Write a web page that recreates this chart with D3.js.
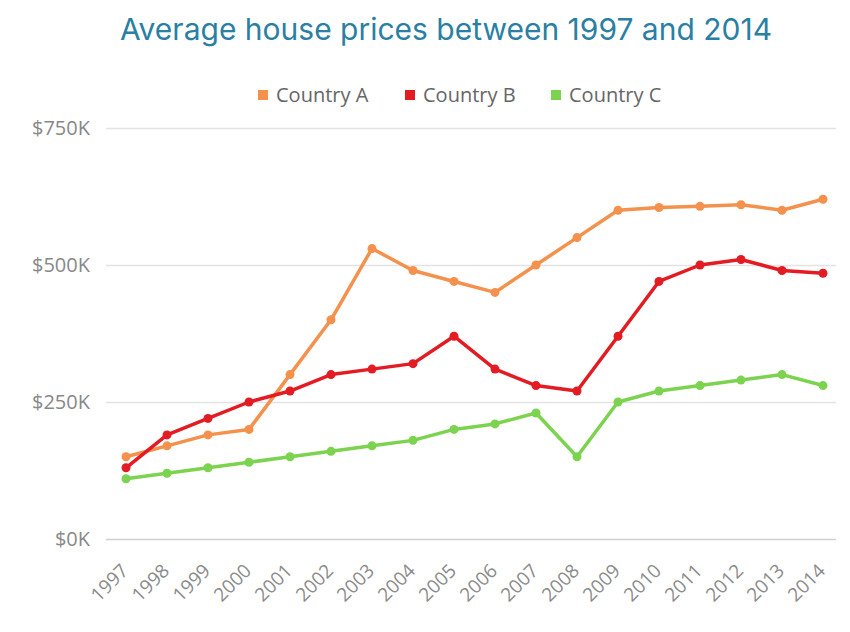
<!DOCTYPE html>
<html>
<head>
<meta charset="utf-8">
<script src="https://cdn.jsdelivr.net/npm/d3@7"></script>
<style>
  body { margin: 0; background: #fff; }
  svg { display: block; }
</style>
</head>
<body>
<svg width="850" height="632"></svg>
<script>
const years = ['1997','1998','1999','2000','2001','2002','2003','2004','2005','2006',
               '2007','2008','2009','2010','2011','2012','2013','2014'];
const countryA = [150,170,190,200,300,400,530,490,470,450,500,550,600,605,607,610,600,620];
const countryB = [130,190,220,250,270,300,310,320,370,310,280,270,370,470,500,510,490,485];
const countryC = [110,120,130,140,150,160,170,180,200,210,230,150,250,270,280,290,300,280];
const seriesNames = ['Country A', 'Country B', 'Country C'];
const seriesColors = ['#f3914d', '#e31b23', '#7cd34f'];
const yTicks = [0, 250, 500, 750];

const svg = d3.select('svg');

const x = d3.scalePoint().domain(years).range([126, 823]);
const y = d3.scaleLinear().domain([0, 750]).range([539, 128]);

// title
svg.append('text')
    .attr('x', 446)
    .attr('y', 40)
    .attr('text-anchor', 'middle')
    .attr('font-family', 'Inter, sans-serif')
    .attr('font-size', 30)
    .attr('fill', '#2a7fa3')
    .text('Average house prices between 1997 and 2014');

// legend
const legendX = [258, 405, 551];
const legend = svg.append('g').selectAll('g')
    .data(seriesNames)
    .join('g')
        .attr('transform', (d, i) => `translate(${legendX[i]}, 95)`);
legend.append('rect')
    .attr('x', 0).attr('y', -5)
    .attr('width', 10).attr('height', 10)
    .attr('fill', (d, i) => seriesColors[i]);
legend.append('text')
    .attr('x', 18).attr('y', 7)
    .attr('font-family', '"Open Sans", sans-serif')
    .attr('font-size', 20)
    .attr('fill', '#666')
    .text(d => d);

// y grid + labels
const yAxis = svg.append('g')
    .attr('transform', 'translate(106,0)')
    .call(d3.axisLeft(y).tickValues(yTicks)
        .tickSize(-730)
        .tickPadding(16)
        .tickFormat(d => `$${d}K`));
yAxis.select('.domain').remove();
yAxis.selectAll('line').attr('stroke', '#e3e3e3').attr('stroke-width', 1.5);
yAxis.selectAll('.tick').filter(d => d === 0).select('line').attr('stroke', '#cfcfcf');
yAxis.selectAll('text')
    .attr('font-family', '"Open Sans", sans-serif')
    .attr('font-size', 20)
    .attr('fill', '#888');

// x labels
const xAxis = svg.append('g')
    .attr('transform', 'translate(0,539)')
    .call(d3.axisBottom(x).tickSize(0).tickPadding(0));
xAxis.select('.domain').remove();
xAxis.selectAll('text')
    .attr('font-family', '"Open Sans", sans-serif')
    .attr('font-size', 19)
    .attr('fill', '#8a8a8a')
    .attr('text-anchor', 'end')
    .attr('dy', 0)
    .attr('transform', 'translate(3,33) rotate(-45)');

// lines + dots
const allSeries = [countryA, countryB, countryC];
const line = d3.line()
    .x((d, i) => x(years[i]))
    .y(d => y(d));

const groups = svg.append('g').selectAll('g')
    .data(allSeries)
    .join('g');
groups.append('path')
    .attr('d', d => line(d))
    .attr('fill', 'none')
    .attr('stroke', (d, i) => seriesColors[i])
    .attr('stroke-width', 3.5)
    .attr('stroke-linejoin', 'round');
groups.each(function (vals, si) {
    d3.select(this).selectAll('circle')
        .data(vals)
        .join('circle')
            .attr('cx', (d, i) => x(years[i]))
            .attr('cy', d => y(d))
            .attr('r', 4.5)
            .attr('fill', seriesColors[si]);
});
</script>
</body>
</html>
